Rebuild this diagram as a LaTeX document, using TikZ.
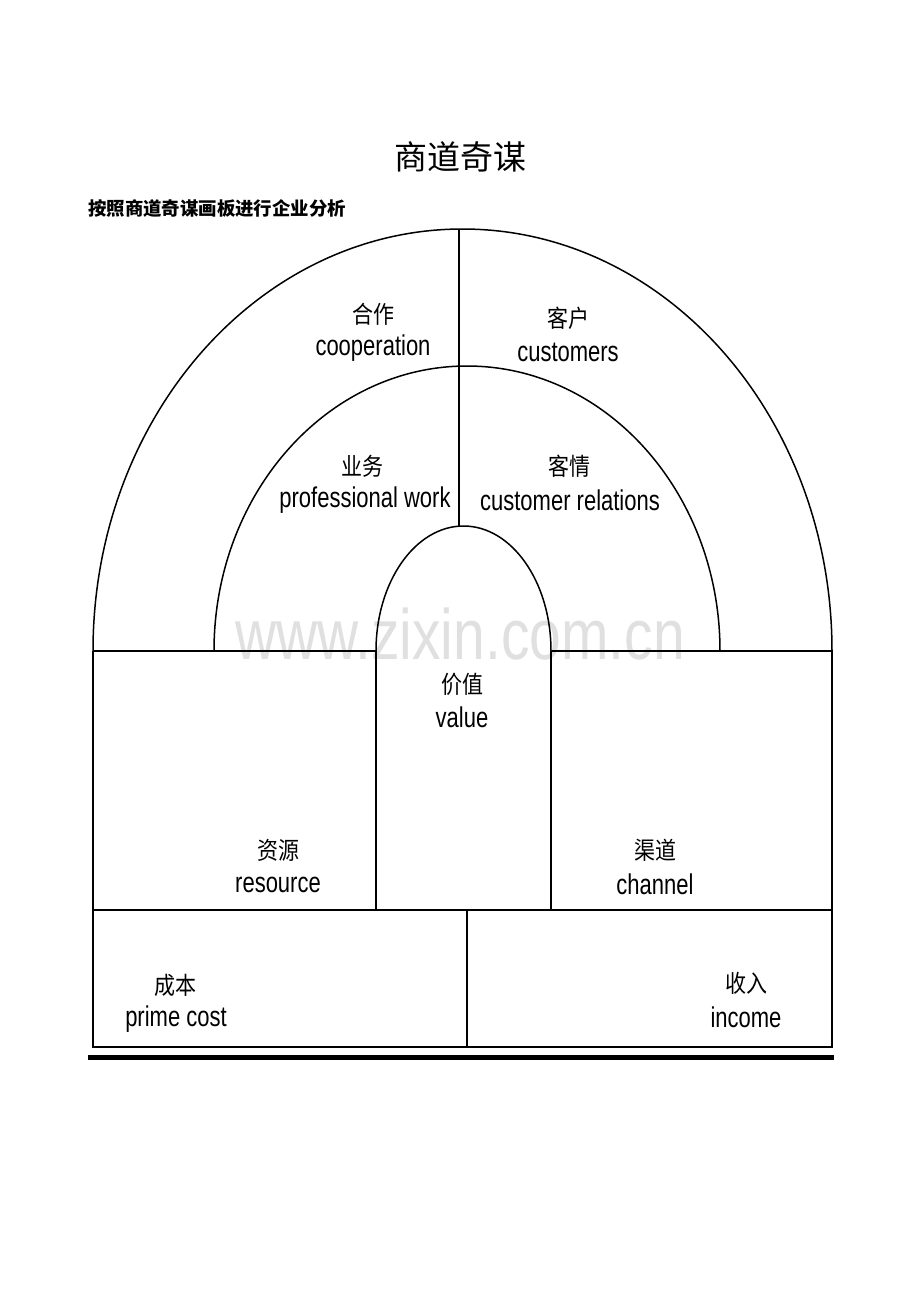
\documentclass[tikz,border=0pt]{standalone}
\usepackage{fontspec}
\usepackage{graphicx}
\setmainfont{Liberation Sans}
\newfontfamily\cjk{Noto Sans CJK SC}
\newcommand{\entxt}[1]{\scalebox{1}[1.3]{\fontsize{22}{22}\selectfont #1}}
\newcommand{\zhtxt}[1]{\scalebox{1}[1.15]{\fontsize{21}{21}\selectfont\cjk #1}}
\begin{document}
\begin{tikzpicture}[x=1pt,y=-1pt,
  frame/.style={draw=black,line width=1.6pt},
  arcline/.style={draw=black,line width=1.5pt},
  zh/.style={inner sep=0pt,anchor=center},
  en/.style={inner sep=0pt,anchor=center}]
\useasboundingbox[fill=white] (0,0) rectangle (920,1302);
% watermark
\node[inner sep=0pt,text=black!12] (wm) at (460,634) {\scalebox{1}[1.25]{\fontsize{57}{57}\selectfont www.zixin.com.cn}};
% title
\node[inner sep=0pt] (title) at (460,157) {\fontsize{33}{33}\selectfont\cjk 商道奇谋};
\node[inner sep=0pt,anchor=west] (sub) at (88,209) {\fontsize{18.4}{18.4}\selectfont\cjk\bfseries 按照商道奇谋画板进行企业分析};
% arcs
\draw[arcline] (93,651) arc[start angle=180,end angle=0,x radius=369.5pt,y radius=422pt];
\draw[arcline] (214,651) arc[start angle=180,end angle=0,x radius=253pt,y radius=285pt];
\draw[arcline] (376,651) arc[start angle=180,end angle=0,x radius=87.5pt,y radius=125pt];
\draw[frame] (459,229) -- (459,526);
% boxes
\draw[frame] (93,651) -- (376,651);
\draw[frame] (551,651) -- (832,651);
\draw[frame] (93,651) -- (93,1047) -- (832,1047) -- (832,651);
\draw[frame] (93,910) -- (832,910);
\draw[frame] (376,651) -- (376,910);
\draw[frame] (551,651) -- (551,910);
\draw[frame] (467,910) -- (467,1047);
\draw[draw=black,line width=5pt] (88,1057) -- (834,1057);
% labels
\node[zh] (hz) at (373,314) {\zhtxt{合作}};
\node[en] (hze) at (373,348) {\entxt{cooperation}};
\node[zh] (kh) at (568,318) {\zhtxt{客户}};
\node[en] (khe) at (568,352) {\entxt{customers}};
\node[zh] (yw) at (362,466) {\zhtxt{业务}};
\node[en] (ywe) at (365,500) {\entxt{professional work}};
\node[zh] (kq) at (569,466) {\zhtxt{客情}};
\node[en] (kqe) at (570,500) {\entxt{customer relations}};
\node[zh] (jz) at (462,684) {\zhtxt{价值}};
\node[en] (jze) at (462,717) {\entxt{value}};
\node[zh] (zy) at (278,850) {\zhtxt{资源}};
\node[en] (zye) at (278,885) {\entxt{resource}};
\node[zh] (qd) at (655,850) {\zhtxt{渠道}};
\node[en] (qde) at (655,884) {\entxt{channel}};
\node[zh] (cb) at (175,985) {\zhtxt{成本}};
\node[en] (cbe) at (176,1019) {\entxt{prime cost}};
\node[zh] (sr) at (746,983) {\zhtxt{收入}};
\node[en] (sre) at (746,1017) {\entxt{income}};
\end{tikzpicture}
\end{document}
